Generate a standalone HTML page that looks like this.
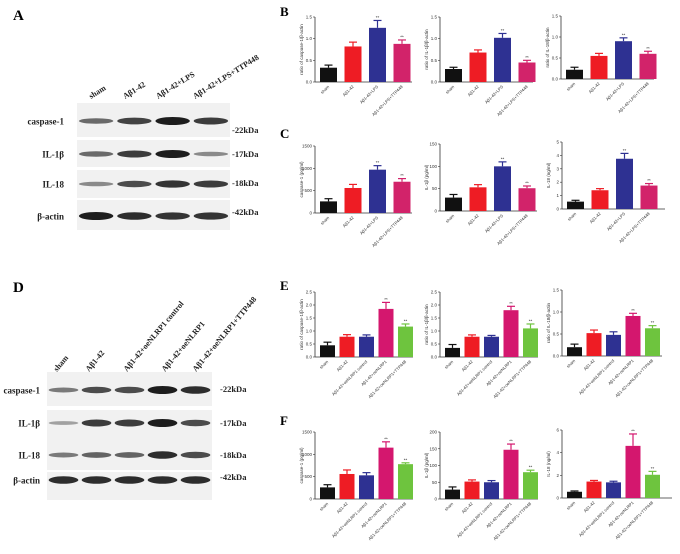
<!DOCTYPE html>
<html><head><meta charset="utf-8"><style>
body{margin:0;background:#fff;width:680px;height:554px;overflow:hidden;font-family:"Liberation Serif",serif}
svg{position:absolute;left:0;top:0}
</style></head><body>
<svg id="fig" width="680" height="554" viewBox="0 0 680 554" xmlns="http://www.w3.org/2000/svg">
<g font-family="Liberation Serif, serif" font-weight="bold">
<text x="13" y="20" font-size="15">A</text>
<text x="280" y="16" font-size="13">B</text>
<text x="280" y="138" font-size="13">C</text>
<text x="13" y="292" font-size="15">D</text>
<text x="280" y="290" font-size="13">E</text>
<text x="280" y="425" font-size="13">F</text>
</g>
<g id="blots"></g>
<g id="charts" font-family="Liberation Sans, sans-serif"></g>
</svg>
<script>
// ---- chart data ----
const groups4 = ["sham","Aβ1-42","Aβ1-42+LPS","Aβ1-42+LPS+TTP448"];
const groups5 = ["sham","Aβ1-42","Aβ1-42+oeNLRP1 control","Aβ1-42+oeNLRP1","Aβ1-42+oeNLRP1+TTP448"];
const valsB1 = [0.33,0.82,1.25,0.88]; const errB1 = [0.06,0.1,0.17,0.09];
const valsB2 = [0.30,0.68,1.02,0.45]; const errB2 = [0.04,0.06,0.1,0.05];
const valsB3 = [0.22,0.55,0.90,0.60]; const errB3 = [0.06,0.06,0.08,0.06];
const valsC1 = [260,560,970,700]; const errC1 = [60,80,90,70];
const valsC2 = [30,53,100,51]; const errC2 = [7,6,10,5];
const valsC3 = [0.55,1.4,3.75,1.75]; const errC3 = [0.1,0.12,0.4,0.15];
const valsE1 = [0.45,0.78,0.78,1.85,1.17]; const errE1 = [0.12,0.08,0.07,0.25,0.1];
const valsE2 = [0.35,0.78,0.78,1.80,1.10]; const errE2 = [0.13,0.07,0.05,0.15,0.17];
const valsE3 = [0.20,0.52,0.48,0.91,0.63]; const errE3 = [0.07,0.07,0.07,0.06,0.06];
const valsF1 = [260,560,530,1150,780]; const errF1 = [60,90,60,130,30];
const valsF2 = [28,52,50,147,80]; const errF2 = [8,5,5,17,6];
const valsF3 = [0.55,1.45,1.38,4.6,2.05]; const errF3 = [0.07,0.1,0.1,1.05,0.3];
const ticksRatio15 = ["0.0","0.5","1.0","1.5"];
const ticksRatio25 = ["0.0","0.5","1.0","1.5","2.0","2.5"];
const ticks1500 = ["0","500","1000","1500"];
const ticks150 = ["0","50","100","150"];
const ticks200 = ["0","50","100","150","200"];
const ticks5 = ["0","1","2","3","4","5"];
const ticks6 = ["0","2","4","6"];
const sigB = ["","","**","**"];
const sigE = ["","","","**","**"];

const NS="http://www.w3.org/2000/svg";
function mk(tag,attrs,parent){const e=document.createElementNS(NS,tag);for(const k in attrs)e.setAttribute(k,attrs[k]);parent.appendChild(e);return e;}

const colors4=["#111111","#ee1c24","#2e3192","#d2236a"];
const colors5=["#111111","#ee1c24","#2e3192","#d4176e","#6ec43e"];

function chart(cfg){
  const root=document.getElementById('charts');
  const g=mk('g',{},root);
  
  
  const ticks=cfg.ticks, max=parseFloat(ticks[ticks.length-1]);
  const y=v=>cfg.y0-(v/max)*(cfg.y0-cfg.yTop);
  const n=cfg.vals.length;
  const bx=i=>cfg.x0+cfg.pad+i*cfg.pitch;
  // axes
  const ya=mk('line',{x1:cfg.x0,y1:cfg.yTop,x2:cfg.x0,y2:cfg.y0,stroke:'#333','stroke-width':0.8},g);
  
  const xa=mk('line',{x1:cfg.x0,y1:cfg.y0,x2:cfg.xEnd,y2:cfg.y0,stroke:'#333','stroke-width':0.8},g);
  
  ticks.forEach(t=>{
    const yy=y(parseFloat(t));
    mk('line',{x1:cfg.x0-2,y1:yy,x2:cfg.x0,y2:yy,stroke:'#333','stroke-width':0.6},g);
    const tx=mk('text',{x:cfg.x0-3,y:yy+1.5,'font-size':4.5,'text-anchor':'end',fill:'#333'},g);
    tx.textContent=t;
    
  });
  const yt=mk('text',{x:0,y:0,'font-size':4.5,'text-anchor':'middle',fill:'#333',transform:`translate(${cfg.x0-12},${(cfg.y0+cfg.yTop)/2}) rotate(-90)`},g);
  yt.textContent=cfg.title;
  
  cfg.vals.forEach((v,i)=>{
    const c=cfg.colors[i], x=bx(i), cx=x+cfg.bw/2;
    const r=mk('rect',{x:x,y:y(v),width:cfg.bw,height:cfg.y0-y(v),fill:c},g);
    
    const ye=y(v+cfg.err[i]);
    mk('line',{x1:cx,y1:y(v),x2:cx,y2:ye,stroke:c,'stroke-width':1.2},g);
    mk('line',{x1:cx-4,y1:ye,x2:cx+4,y2:ye,stroke:c,'stroke-width':1.2},g);
    if(cfg.sig[i]){const s=mk('text',{x:cx,y:ye-1.5,'font-size':4.5,'text-anchor':'middle',fill:'#333'},g);s.textContent=cfg.sig[i];
      }
    const lb=mk('text',{x:0,y:0,'font-size':4.2,'text-anchor':'end',fill:'#333',transform:`translate(${cx+1},${cfg.y0+5}) rotate(-45)`},g);
    lb.textContent=cfg.groups[i];
    
  });
}
const B={pad:5,pitch:24.5,bw:17,groups:groups4,colors:colors4,sig:sigB};
const E={pad:5,pitch:19.5,bw:15,groups:groups5,colors:colors5,sig:sigE};
chart({...B,name:'chart-b-caspase1',x0:315,yTop:17,y0:82,xEnd:412,vals:valsB1,err:errB1,ticks:ticksRatio15,title:'ratio of caspase-1/β-actin'});
chart({...B,name:'chart-b-il1b',x0:440,yTop:17,y0:82,xEnd:533,vals:valsB2,err:errB2,ticks:ticksRatio15,title:'ratio of IL-1β/β-actin'});
chart({...B,name:'chart-b-il18',x0:561,yTop:16,y0:79,xEnd:654,vals:valsB3,err:errB3,ticks:ticksRatio15,title:'ratio of IL-18/β-actin'});
chart({...B,name:'chart-c-caspase1',x0:315,yTop:146,y0:213,xEnd:412,vals:valsC1,err:errC1,ticks:ticks1500,title:'caspase-1 (pg/ml)'});
chart({...B,name:'chart-c-il1b',x0:440,yTop:144,y0:211,xEnd:537,vals:valsC2,err:errC2,ticks:ticks150,title:'IL-1β (pg/ml)'});
chart({...B,name:'chart-c-il18',x0:562,yTop:142,y0:209,xEnd:665,vals:valsC3,err:errC3,ticks:ticks5,title:'IL-18 (ng/ml)'});
chart({...E,name:'chart-e-caspase1',x0:315,yTop:292,y0:357,xEnd:413,vals:valsE1,err:errE1,ticks:ticksRatio25,title:'ratio of caspase-1/β-actin'});
chart({...E,name:'chart-e-il1b',x0:440,yTop:292,y0:357,xEnd:538,vals:valsE2,err:errE2,ticks:ticksRatio25,title:'ratio of IL-1β/β-actin'});
chart({...E,name:'chart-e-il18',x0:562,yTop:290,y0:356,xEnd:662,vals:valsE3,err:errE3,ticks:ticksRatio15,title:'ratio of IL-18/β-actin'});
chart({...E,name:'chart-f-caspase1',x0:315,yTop:432,y0:499,xEnd:413,vals:valsF1,err:errF1,ticks:ticks1500,title:'caspase-1 (pg/ml)'});
chart({...E,name:'chart-f-il1b',x0:440,yTop:432,y0:499,xEnd:538,vals:valsF2,err:errF2,ticks:ticks200,title:'IL-1β (pg/ml)'});
chart({...E,name:'chart-f-il18',x0:562,yTop:430,y0:498,xEnd:672,vals:valsF3,err:errF3,ticks:ticks6,title:'IL-18 (ng/ml)'});

// ---- western blots ----
const blotA_rows=["caspase-1","IL-1β","IL-18","β-actin"];
const blotA_kda=["-22kDa","-17kDa","-18kDa","-42kDa"];
const blotA_int=[[0.5,0.75,1,0.8],[0.5,0.8,1,0.3],[0.3,0.7,0.85,0.8],[1,0.9,0.85,0.85]];
const blotD_int=[[0.4,0.7,0.7,1,0.9],[0.15,0.8,0.8,1,0.7],[0.4,0.55,0.55,0.9,0.7],[0.9,0.9,0.9,0.9,0.9]];
function blot(cfg){
  const root=document.getElementById('blots');
  const g=mk('g',{},root);
  
  
  cfg.rows.forEach((r,ri)=>{
    const [t,b,band]=cfg.rowY[ri];
    mk('rect',{x:cfg.x0,y:t,width:cfg.x1-cfg.x0,height:b-t,fill:'#f1f1f1'},g);
    const n=cfg.int[ri].length, lw=(cfg.x1-cfg.x0)/n;
    cfg.int[ri].forEach((v,li)=>{
      const e=mk('ellipse',{cx:cfg.x0+lw*(li+0.5),cy:band,rx:lw*0.45,ry:1.5+v*2.5,fill:'#111','fill-opacity':0.25+v*0.7},g);
      
    });
    const lab=mk('text',{x:cfg.labX,y:band+3.5,'font-size':9,'font-weight':'bold','text-anchor':'end',fill:'#222','font-family':'Liberation Serif, serif'},g);
    lab.textContent=r;
    
    const k=mk('text',{x:cfg.kX,y:cfg.kY[ri],'font-size':8.5,'font-weight':'bold',fill:'#222','font-family':'Liberation Serif, serif'},g);
    k.textContent=cfg.kda[ri];
    
  });
  cfg.lanes.forEach((l,i)=>{
    const t=mk('text',{x:0,y:0,'font-size':8,'font-weight':'bold',fill:'#222','font-family':'Liberation Serif, serif',transform:`translate(${cfg.laneX[i]},${cfg.laneY}) rotate(${cfg.rot})`},g);
    t.textContent=l;
    
  });
}
blot({name:'blot-a',x0:77,x1:230,rows:blotA_rows,kda:blotA_kda,int:blotA_int,
  rowY:[[103,137,121],[140,167,154],[170,198,184],[200,230,216]],labX:64,kX:232,kY:[133,157,186,215],
  lanes:groups4.map(s=>s.replace('+LPS+TTP448','+LPS+TTP448')),laneX:[91,125,158,195],laneY:99,rot:-32});
blot({name:'blot-d',x0:47,x1:212,rows:blotA_rows,kda:blotA_kda,int:blotD_int,
  rowY:[[372,406,390],[410,440,423],[440,470,455],[472,500,480]],labX:40,kX:220,kY:[392,426,458,480],
  lanes:["sham","Aβ1-42","Aβ1-42+oeNLRP1 control","Aβ1-42+oeNLRP1","Aβ1-42+oeNLRP1+TTP448"],laneX:[57,89,127,165,196],laneY:372,rot:-50});
</script>
</body></html>
